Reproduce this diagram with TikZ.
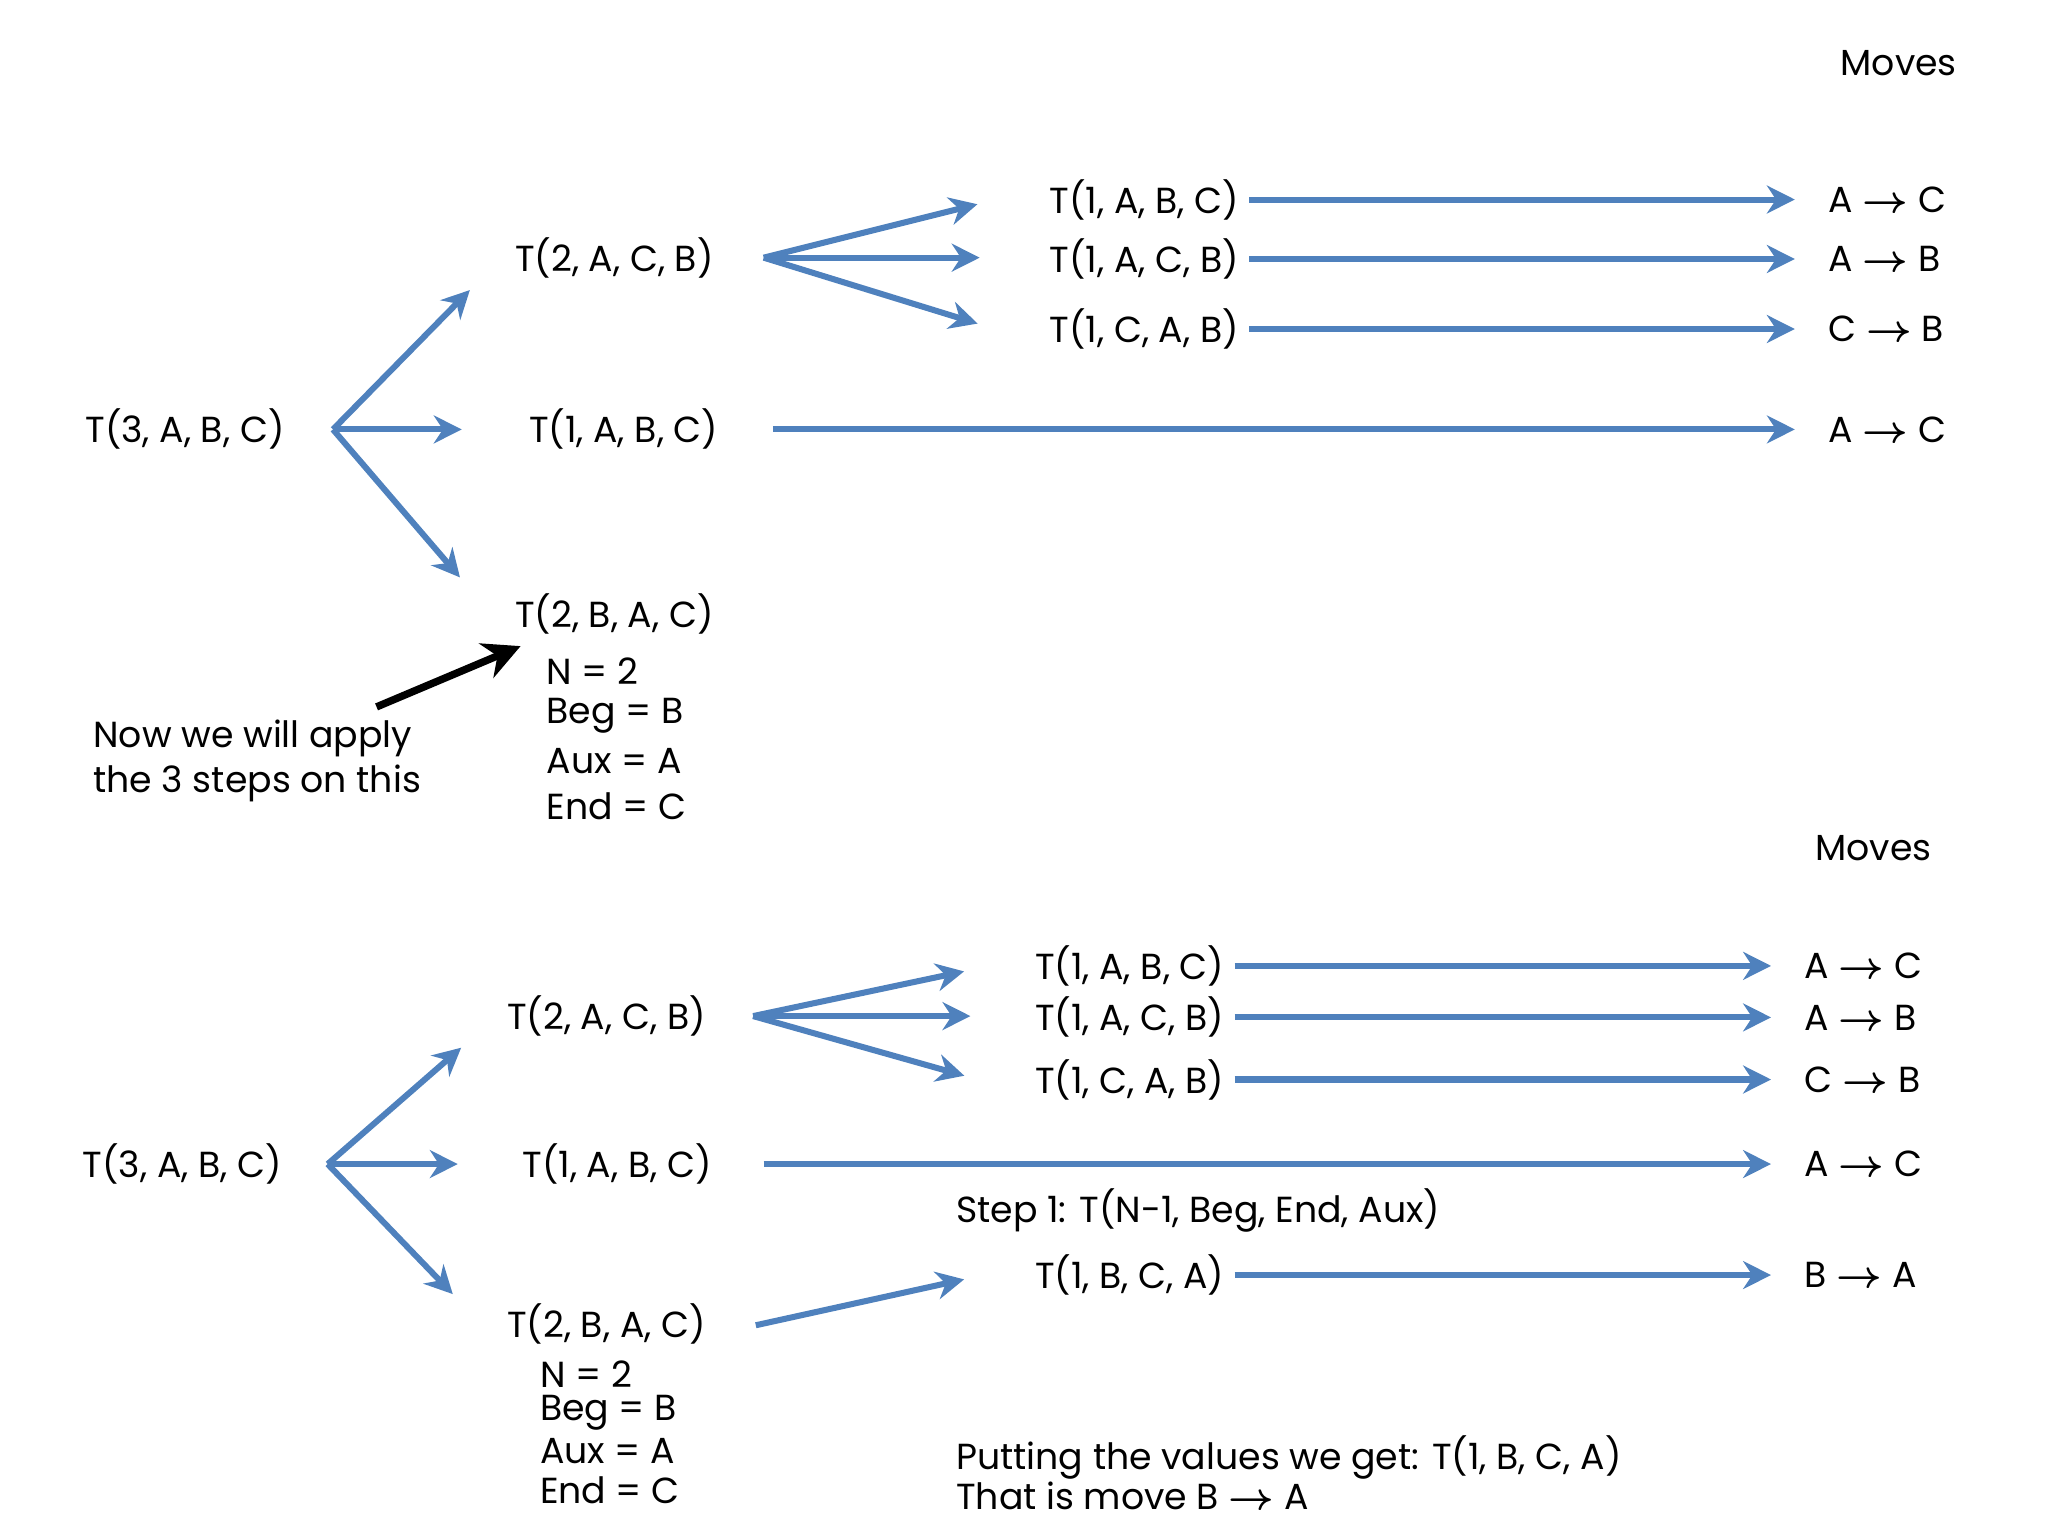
\documentclass[tikz,border=0pt]{standalone}
\usepackage{fontspec}
\usepackage{amsmath}
\usetikzlibrary{arrows.meta}
\setmainfont{Poppins}
\definecolor{ab}{RGB}{79,129,189}
\begin{document}
\begin{tikzpicture}[x=0.01cm,y=-0.01cm,
  t/.style={font=\fontsize{7.8}{9}\selectfont,inner sep=0pt},
  l/.style={t,anchor=west},
  mv/.style={t,anchor=west},
  a/.style={draw=ab,line width=1.3pt,shorten >=3pt,-{Stealth[length=6pt,width=6pt]}}]
\useasboundingbox (0,0) rectangle (1550,1162.5);
\newcommand{\ra}{\;$\boldsymbol{\rightarrow}$\;}
% ---------- top ----------
\node[t] (mv1) at (1437,48) {Moves};
\node[t] (a3) at (140,325) {T(3, A, B, C)};
\coordinate (a3o) at (252,325);
\node[t] (a2acb) at (465,195) {T(2, A, C, B)};
\node[t] (a1m) at (472,325) {T(1, A, B, C)};
\node[t] (a2bac) at (465,465) {T(2, B, A, C)};
\coordinate (a2o) at (578,195);
\node[t] (b1) at (866,151) {T(1, A, B, C)};
\node[t] (b2) at (866,196) {T(1, A, C, B)};
\node[t] (b3) at (866,249) {T(1, C, A, B)};
\node[mv] (m1) at (1383,151) {A\ra C};
\node[mv] (m2) at (1383,196) {A\ra B};
\node[mv] (m3) at (1383,249) {C\ra B};
\node[mv] (m4) at (1383,325) {A\ra C};
\draw[a] (a3o) -- (363,212);
\draw[a] (a3o) -- (360,325);
\draw[a] (a3o) -- (355,445);
\draw[a] (a2o) -- (750,152);
\draw[a] (a2o) -- (752,195);
\draw[a] (a2o) -- (750,248);
\draw[a] ([xshift=2pt]b1.east) -- ([xshift=-4pt]m1.west);
\draw[a] ([xshift=2pt]b2.east) -- ([xshift=-4pt]m2.west);
\draw[a] ([xshift=2pt]b3.east) -- ([xshift=-4pt]m3.west);
\draw[a] (585,325) -- ([xshift=-4pt]m4.west);
\node[l] (n1) at (413,508) {N = 2};
\node[l] (n2) at (413,542) {Beg = B};
\node[l] (n3) at (413,576) {Aux = A};
\node[l] (n4) at (413,610) {End = C};
\node[l] (now1) at (70,559) {Now we will apply};
\node[l] (now2) at (70,593) {the 3 steps on this};
\coordinate (bk) at (285,535);
\draw[line width=1.6pt,-{Stealth[length=8pt,width=8pt]}] (bk) -- (394,489);
% ---------- bottom ----------
\node[t] (mv2) at (1418,642) {Moves};
\node[t] (c3) at (138,881) {T(3, A, B, C)};
\coordinate (c3o) at (248,881);
\node[t] (c2acb) at (459,769) {T(2, A, C, B)};
\node[t] (c1m) at (467,881) {T(1, A, B, C)};
\node[t] (c2bac) at (459,1002) {T(2, B, A, C)};
\coordinate (c2o) at (570,769);
\node[t] (d1) at (855,731) {T(1, A, B, C)};
\node[t] (d2) at (855,770) {T(1, A, C, B)};
\node[t] (d3) at (855,817) {T(1, C, A, B)};
\node[t] (d4) at (855,965) {T(1, B, C, A)};
\node[mv] (p1) at (1365,731) {A\ra C};
\node[mv] (p2) at (1365,770) {A\ra B};
\node[mv] (p3) at (1365,817) {C\ra B};
\node[mv] (p4) at (1365,881) {A\ra C};
\node[mv] (p5) at (1365,965) {B\ra A};
\draw[a] (c3o) -- (357,786);
\draw[a] (c3o) -- (357,881);
\draw[a] (c3o) -- (350,987);
\draw[a] (c2o) -- (740,733);
\draw[a] (c2o) -- (745,769);
\draw[a] (c2o) -- (740,817);
\draw[a] (572,1003) -- (740,966);
\draw[a] ([xshift=2pt]d1.east) -- ([xshift=-4pt]p1.west);
\draw[a] ([xshift=2pt]d2.east) -- ([xshift=-4pt]p2.west);
\draw[a] ([xshift=2pt]d3.east) -- ([xshift=-4pt]p3.west);
\draw[a] ([xshift=2pt]d4.east) -- ([xshift=-4pt]p5.west);
\draw[a] (578,881) -- ([xshift=-4pt]p4.west);
\node[l] (s1) at (723,916) {Step 1: T(N-1, Beg, End, Aux)};
\node[l] (k1) at (408,1040) {N = 2};
\node[l] (k2) at (408,1069) {Beg = B};
\node[l] (k3) at (408,1098) {Aux = A};
\node[l] (k4) at (408,1128) {End = C};
\node[l] (pu1) at (723,1103) {Putting the values we get: T(1, B, C, A)};
\node[l] (pu2) at (723,1132) {That is move B $\boldsymbol{\rightarrow}$ A};
\end{tikzpicture}
\end{document}
